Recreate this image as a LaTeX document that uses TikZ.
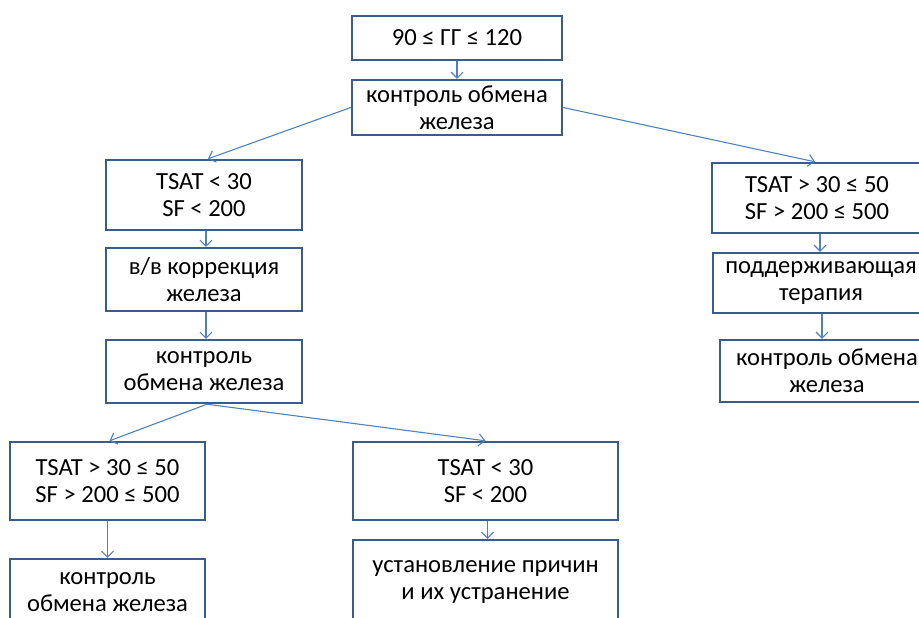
\documentclass[tikz,border=0pt]{standalone}
\usepackage{fontspec}
\setmainfont{Carlito}
\usepackage{tikz}
\usetikzlibrary{arrows.meta, positioning, calc}
\definecolor{boxblue}{RGB}{56,93,138}
\definecolor{arrblue}{RGB}{79,129,189}

\begin{document}
\begin{tikzpicture}[
  x=0.5pt, y=-0.5pt,
  box/.style={draw=boxblue, line width=1.2pt, fill=white, align=center,
              font=\fontsize{12.3}{13.6}\selectfont, inner sep=0pt},
  arr/.style={-{Straight Barb[length=3pt, width=6pt]}, draw=arrblue, line width=0.55pt},
]
\useasboundingbox (0,0) rectangle (919,617);

% ── top ──────────────────────────────────────────────────────
\node[box, minimum width=105pt, minimum height=22pt] (gg) at (457,38)
  {90 ≤ ГГ ≤ 120};
\node[box, minimum width=105pt, minimum height=27.5pt] (ctrl) at (457,107.5)
  {контроль обмена\\железа};

% ── left branch ──────────────────────────────────────────────
\node[box, minimum width=98pt, minimum height=35pt] (lowA) at (204,195)
  {TSAT < 30\\SF < 200};
\node[box, minimum width=98pt, minimum height=31.5pt] (ivcor) at (204,279.5)
  {в/в коррекция\\железа};
\node[box, minimum width=98pt, minimum height=31.5pt] (ctrlL) at (204,371.5)
  {контроль\\обмена железа};

\node[box, minimum width=97.5pt, minimum height=39pt] (midB) at (107.5,481)
  {TSAT > 30 ≤ 50\\SF > 200 ≤ 500};
\node[box, minimum width=97.5pt, minimum height=33pt] (ctrlB) at (107.5,592)
  {контроль\\обмена железа};

\node[box, minimum width=132.5pt, minimum height=39pt] (lowB) at (485.5,481)
  {TSAT < 30\\SF < 200};
\node[box, minimum width=132.5pt, minimum height=42pt] (cause) at (485.5,582)
  {установление причин\\и их устранение};

% ── right branch ─────────────────────────────────────────────
\node[box, minimum width=105pt, minimum height=35pt] (midA) at (817,198)
  {TSAT > 30 ≤ 50\\SF > 200 ≤ 500};
\node[box, minimum width=108pt, minimum height=30pt] (supp) at (821,283)
  {поддерживающая\\терапия};
\node[box, minimum width=107pt, minimum height=31pt] (ctrlR) at (827,371)
  {контроль обмена\\железа};

% ── connectors ───────────────────────────────────────────────
\draw[arr] (gg.south) -- (ctrl.north);
\draw[arr] (ctrl.west) -- ([xshift=2pt]lowA.north);
\draw[arr] (ctrl.east) -- ([xshift=-1pt]midA.north);
\draw[arr] ([xshift=1pt]lowA.south) -- ([xshift=1pt]ivcor.north);
\draw[arr] ([xshift=1pt]ivcor.south) -- ([xshift=1pt]ctrlL.north);
\draw[arr] ([xshift=1.5pt]ctrlL.south) -- ([xshift=1pt]midB.north);
\draw[arr] ([xshift=1.5pt]ctrlL.south) -- (lowB.north);
\draw[arr] (midB.south) -- (midB.south |- ctrlB.north);
\draw[arr] ([xshift=1pt]lowB.south) -- ([xshift=1pt]lowB.south |- cause.north);
\draw[arr] ([xshift=1.5pt]midA.south) -- ([xshift=1.5pt]midA.south |- supp.north);
\draw[arr] ([xshift=0.5pt]supp.south) -- ([xshift=0.5pt]supp.south |- ctrlR.north);

\end{tikzpicture}
\end{document}
